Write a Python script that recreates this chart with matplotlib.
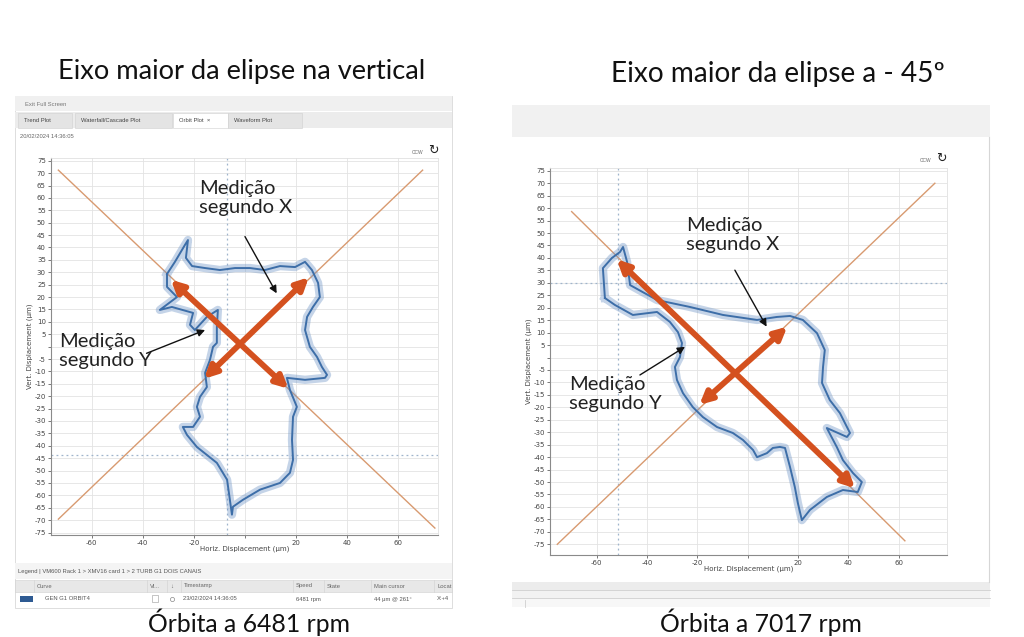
import matplotlib
matplotlib.use('Agg')
import matplotlib.pyplot as plt
from matplotlib.patches import Rectangle, FancyArrowPatch

# ---------------- data ----------------
title_left = "Eixo maior da elipse na vertical"
title_right = "Eixo maior da elipse a - 45º"
caption_left = "Órbita a 6481 rpm"
caption_right = "Órbita a 7017 rpm"
ann_x = "Medição\nsegundo X"
ann_y = "Medição\nsegundo Y"

y_ticks = list(range(-75, 80, 5))
x_ticks = [-60, -40, -20, 0, 20, 40, 60]

# orbit at 6481 rpm (um)
left_orbit_x = [-30.5, -27.4, -23.5, -22.3, -23.1, -20.7, -15.6, -9.8, -3.9, 2.0, 7.8, 13.7, 19.6, 23.5,
                26.2, 28.6, 29.3, 26.6, 24.3, 23.5, 25.4, 28.2, 30.1, 32.1, 31.3, 23.5, 16.4, 17.6, 20.3,
                18.8, 18.4, 18.8, 17.6, 13.7, 5.9, -0.8, -4.7, -5.1, -5.9, -7.0, -11.0, -14.9, -18.8,
                -22.7, -24.3, -20.3, -17.6, -18.8, -17.6, -14.9, -15.6, -13.7, -12.5, -11.0, -11.0,
                -10.6, -14.9, -19.6, -21.5, -20.3, -28.6, -33.3, -26.6, -30.5, -30.5]
left_orbit_y = [29.3, 34.2, 41.0, 43.0, 35.8, 32.5, 31.7, 30.9, 31.7, 31.7, 30.9, 32.5, 32.1, 34.2,
                30.9, 25.7, 20.0, 16.0, 12.0, 6.7, -0.1, -4.2, -8.2, -11.4, -12.6, -13.4, -12.6, -17.5,
                -24.3, -28.3, -37.6, -45.7, -50.9, -55.0, -57.7, -61.8, -64.6, -67.8, -61.8, -53.7,
                -46.9, -43.7, -40.5, -35.6, -32.4, -32.4, -28.3, -24.3, -20.3, -16.3, -10.6, -5.4,
                -0.1, 1.5, 7.9, 14.8, 12.0, 6.7, 8.8, 13.6, 16.0, 14.8, 20.0, 24.1, 29.3]

# orbit at 7017 rpm (um)
right_orbit_x = [-56.7, -57.5, -53.9, -50.7, -49.5, -47.9, -46.7, -36.0, -22.9, -9.8, 3.7, 11.6, 16.8,
                 21.9, 27.5, 30.6, 29.9, 29.5, 32.6, 36.6, 39.4, 40.6, 39.4, 31.4, 35.4, 37.8, 41.8,
                 45.3, 43.7, 37.8, 31.4, 24.7, 21.5, 19.9, 18.7, 16.8, 14.8, 12.8, 10.0, 7.6, 3.7,
                 2.1, -1.9, -5.9, -12.2, -17.8, -21.8, -25.7, -28.1, -28.9, -26.9, -26.1, -27.7,
                 -30.9, -36.0, -45.6, -52.7, -56.7]
right_orbit_y = [23.9, 35.9, 40.0, 42.4, 44.4, 38.4, 29.1, 23.1, 20.3, 17.1, 15.1, 16.3, 16.7, 15.1,
                 9.8, 3.0, -3.8, -10.2, -17.1, -22.3, -27.9, -30.3, -31.9, -28.3, -36.0, -41.2, -46.4,
                 -50.0, -54.0, -53.2, -56.0, -61.2, -65.3, -58.4, -52.0, -44.0, -36.3, -35.9, -36.3,
                 -38.4, -40.0, -37.1, -33.1, -30.3, -27.9, -23.9, -19.9, -14.3, -9.0, -3.8, 0.2, 5.8,
                 10.2, 14.3, 18.3, 17.1, 21.1, 23.9]

# thin orange guide lines  [(x0, y0, x1, y1)]
left_guides = [(-73.0, 71.2, 74.3, -73.2), (-73.0, -69.6, 69.5, 71.2)]
right_guides = [(-69.9, 58.6, 62.4, -73.6), (-75.6, -75.0, 74.3, 70.0)]
# thick double arrows
left_axes_arrows = [(-29.0, 27.0, 17.0, -17.0), (-16.0, -13.0, 25.0, 28.0)]
right_axes_arrows = [(-52.0, 39.4, 42.6, -52.5), (-19.2, -19.0, 15.7, 12.4)]
# cursors (x, y)
left_cursor = (-7.2, -43.7)
right_cursor = (-51.4, 29.8)
# annotation pointer arrows (start x, start y, tip x, tip y)
left_ptr_x = (0.0, 44.4, 12.4, 21.5)
left_ptr_y = (-38.5, -2.7, -15.6, 6.7)
right_ptr_x = (-5.1, 35.1, 7.5, 12.4)
right_ptr_y = (-42.8, -7.0, -24.9, 4.3)

# ---------------- figure ----------------
W, H = 1024, 637
fig = plt.figure(figsize=(W / 100, H / 100), dpi=100)
fig.patch.set_facecolor('white')
bg = fig.add_axes([0, 0, 1, 1], zorder=-1)
bg.set_xlim(0, W)
bg.set_ylim(H, 0)
bg.axis('off')

UI = 'Liberation Sans'
TF = 'Lato'
BLUE = '#3d6ea8'
ORANGE_T = '#d89a70'
ORANGE = '#d4511f'


def rect(x0, y0, x1, y1, fc, ec='none', lw=0.6):
    bg.add_patch(Rectangle((x0, y0), x1 - x0, y1 - y0, facecolor=fc, edgecolor=ec, lw=lw))


def ui(x, y, s, size=4.2, color='#555555', **kw):
    bg.text(x, y, s, fontsize=size, color=color, family=UI, va='center', **kw)


def px_axes(l, t, r, b):
    return fig.add_axes([l / W, 1 - b / H, (r - l) / W, (b - t) / H])


# ---- left screenshot chrome ----
rect(15, 96, 452, 608, 'white', ec='#d8d8d8', lw=0.6)
rect(15, 96, 452, 111, '#f0f0f0')
ui(25, 104, "Exit Full Screen", color='#777777')
rect(15, 112, 452, 128, '#ececec')
tabs = [(18, 72, "Trend Plot", '#e4e4e4'), (75, 172, "Waterfall/Cascade Plot", '#e4e4e4'),
        (173, 228, "Orbit Plot  \u00d7", 'white'), (228, 302, "Waveform Plot", '#e4e4e4')]
for x0, x1, s, c in tabs:
    rect(x0, 113, x1, 128, c, ec='#d0d0d0', lw=0.4)
    ui(x0 + 6, 120.5, s, color='#444444')
ui(20, 137, "20/02/2024 14:36:05", color='#666666')
ui(412, 152, "CCW", size=3.5, color='#666666')
bg.text(433, 150, "\u21bb", fontsize=9, family='DejaVu Sans', ha='center', va='center', color='#222222')
for cx in (57, 433):
    rect(cx - 3, 160, cx + 3, 166, 'white', ec='#999999', lw=0.5)

# legend table
rect(15, 563, 452, 579, '#f4f4f4')
ui(18, 571, "Legend | VM600 Rack 1 > XMV16 card 1 > 2 TURB G1 DOIS CANAIS", color='#555555')
rect(15, 580, 452, 592, '#e8e8e8', ec='#d0d0d0', lw=0.4)
cols = [(35, "Curve"), (148, "Vi..."), (168, "\u2193"), (182, "Timestamp"), (294, "Speed"),
        (325, "State"), (372, "Main cursor"), (435, "Locat")]
for x, s in cols:
    ui(x + 2, 586, s, color='#666666')
    bg.plot([x - 1, x - 1], [580, 592], color='#d0d0d0', lw=0.4)
rect(20, 596, 33, 602, '#2e5a92')
ui(45, 599, "GEN G1 ORBIT4")
rect(152, 595, 158, 602, 'white', ec='#999999', lw=0.4)
bg.plot(172, 598.5, 'o', ms=3, mfc='white', mec='#888888', mew=0.5)
ui(183, 599, "23/02/2024 14:36:05")
ui(296, 599, "6481 rpm")
ui(374, 599, "44 \u00b5m @ 261\u00b0")
ui(437, 599, "X:+4")

# ---- right screenshot chrome ----
rect(512, 105, 990, 137, '#f1f1f1')
rect(512, 137, 990, 582, 'white')
bg.plot([989, 989], [137, 582], color='#d6d6d6', lw=0.8)
ui(920, 160, "CCW", size=3.5, color='#666666')
bg.text(941, 158, "\u21bb", fontsize=9, family='DejaVu Sans', ha='center', va='center', color='#222222')
for cx in (555, 943):
    rect(cx - 3, 169, cx + 3, 175, 'white', ec='#999999', lw=0.5)
rect(512, 582, 990, 590, '#ececec')
bg.plot([512, 990], [590, 590], color='#cfcfcf', lw=0.6)
rect(512, 590, 990, 598, '#f2f2f2')
bg.plot([512, 990], [598, 598], color='#cfcfcf', lw=0.6)
rect(512, 598, 990, 607, '#f7f7f7')
bg.plot([525, 525], [600, 607], color='#cfcfcf', lw=0.6)

# ---- titles and captions ----
fig.text(242 / W, 1 - 79 / H, title_left, fontsize=19.6, family=TF, ha='center', va='baseline', color='#111111')
fig.text(778 / W, 1 - 82 / H, title_right, fontsize=20.2, family=TF, ha='center', va='baseline', color='#111111')
fig.text(249 / W, 1 - 632 / H, caption_left, fontsize=17.8, family=TF, ha='center', va='baseline', color='#111111')
fig.text(761 / W, 1 - 632 / H, caption_right, fontsize=17.8, family=TF, ha='center', va='baseline', color='#111111')


def orbit_axes(rect_px, xlim, ylim, ox, oy, guides, arrows, cursor, ptrs, texts):
    ax = px_axes(*rect_px)
    ax.set_facecolor('white')
    ax.set_xlim(*xlim)
    ax.set_ylim(*ylim)
    ax.set_yticks(y_ticks)
    ax.set_yticklabels(['' if v == 0 else str(v) for v in y_ticks])
    ax.set_xticks(x_ticks)
    ax.set_xticklabels(['' if v == 0 else str(v) for v in x_ticks])
    ax.tick_params(labelsize=5, colors='#444444', length=2, width=0.5, pad=1.5)
    ax.grid(True, color='#e3e3e3', lw=0.6)
    ax.set_axisbelow(True)
    for s in ('top', 'right'):
        ax.spines[s].set_color('#e0e0e0')
        ax.spines[s].set_linewidth(0.6)
    for s in ('left', 'bottom'):
        ax.spines[s].set_color('#8a8a8a')
        ax.spines[s].set_linewidth(0.8)
    ax.set_xlabel("Horiz. Displacement (\u00b5m)", fontsize=5, color='#444444', labelpad=0)
    ax.set_ylabel("Vert. Displacement (\u00b5m)", fontsize=5, color='#444444', labelpad=1)
    ax.axvline(cursor[0], color='#9fb4cc', lw=0.9, ls=(0, (1.5, 2.5)), zorder=1)
    ax.axhline(cursor[1], color='#9fb4cc', lw=0.9, ls=(0, (1.5, 2.5)), zorder=1)
    for x0, y0, x1, y1 in guides:
        ax.plot([x0, x1], [y0, y1], color=ORANGE_T, lw=1.0, zorder=2)
    ax.plot(ox, oy, color='#6f95c6', lw=6, alpha=0.4, zorder=3, solid_joinstyle='round')
    ax.plot(ox, oy, color=BLUE, lw=1.4, zorder=4, solid_joinstyle='round')
    for x0, y0, x1, y1 in arrows:
        ax.add_patch(FancyArrowPatch((x0, y0), (x1, y1), arrowstyle='<|-|>', mutation_scale=18,
                                     lw=4.2, color=ORANGE, shrinkA=0, shrinkB=0, zorder=6))
    for x0, y0, x1, y1 in ptrs:
        ax.add_patch(FancyArrowPatch((x0, y0), (x1, y1), arrowstyle='-|>', mutation_scale=11,
                                     lw=1.0, color='#111111', shrinkA=0, shrinkB=0, zorder=7))
    for (px, py), s in texts:
        ax.text(px, py, s, transform=bg.transData, fontsize=14.5, family=TF, color='#222222',
                ha='left', va='top', linespacing=1.15, zorder=8, clip_on=False)
    return ax


axL = orbit_axes((50.7, 158, 437.7, 535), (-76, 75.4), (-76, 76.1),
                 left_orbit_x, left_orbit_y, left_guides, left_axes_arrows, left_cursor,
                 [left_ptr_x, left_ptr_y], [((199, 180), ann_x), ((59, 333), ann_y)])
axR = orbit_axes((550, 168.3, 946.7, 555), (-78.5, 79), (-79.3, 76),
                 right_orbit_x, right_orbit_y, right_guides, right_axes_arrows, right_cursor,
                 [right_ptr_x, right_ptr_y], [((686, 217), ann_x), ((569, 376), ann_y)])

fig.savefig('out.png', dpi=100, facecolor='white')
